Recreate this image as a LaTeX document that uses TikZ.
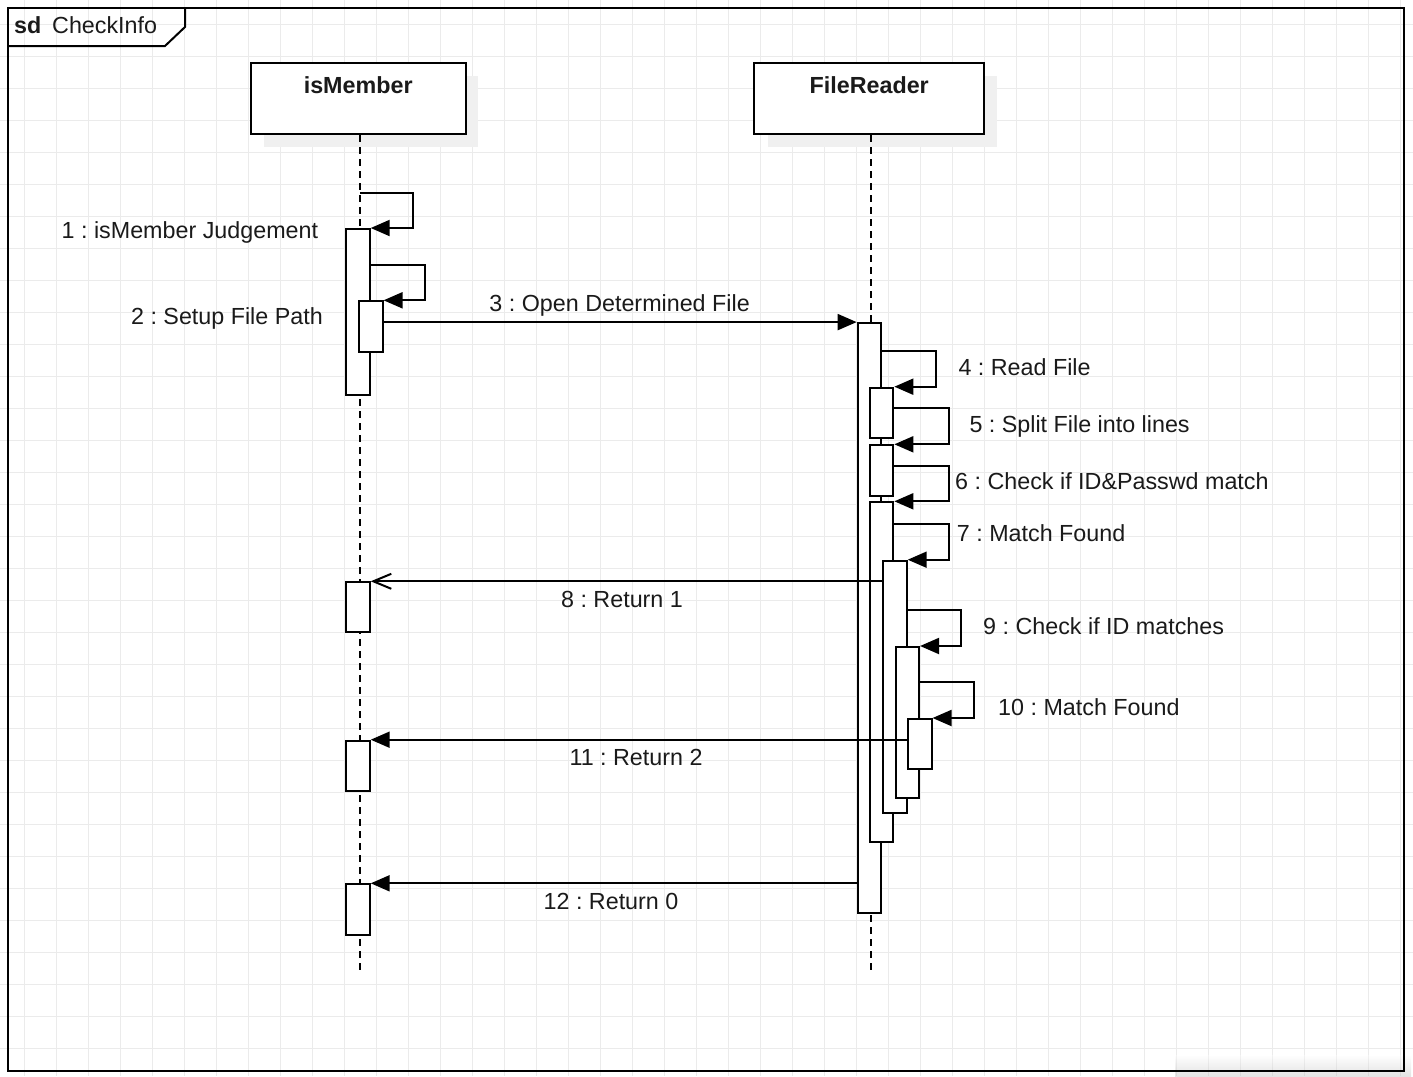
\documentclass[tikz,border=0pt]{standalone}
\usepackage{fontspec}
\setmainfont{Liberation Sans}
\usetikzlibrary{arrows.meta,calc}
\definecolor{gridc}{HTML}{EBEBEB}
\definecolor{shad}{HTML}{F0F0F0}
\definecolor{txt}{HTML}{1A1A1A}
\frenchspacing
\begin{document}
\frenchspacing
\begin{tikzpicture}[x=1pt,y=-1pt,line join=miter,
  every node/.style={font=\fontsize{23.3}{28}\selectfont\frenchspacing, text=txt},
  lbox/.style={draw, line width=2pt, fill=white, inner sep=0pt},
  bar/.style={draw, line width=2pt, fill=white, minimum width=23.4, inner sep=0pt},
  life/.style={line width=1.8pt, dash pattern=on 7pt off 5pt},
  msg/.style={line width=2pt, -{Triangle[length=19pt,width=16pt]}},
  ret/.style={line width=2pt, -{Straight Barb[length=18pt,width=15pt]}},
  lbl/.style={inner sep=0pt},
]
\useasboundingbox (0,0) rectangle (1413,1076);
\fill[white] (0,0) rectangle (1413,1076);
% grid
\foreach \i in {0,...,43} \draw[gridc, line width=1pt] ({24+32*\i},0) -- ({24+32*\i},1076);
\foreach \i in {0,...,32} \draw[gridc, line width=1pt] (0,{24+32*\i}) -- (1413,{24+32*\i});
% frame shadow
\shade[top color=white, bottom color=black!30, opacity=0.35] (1175,1055) rectangle (1411,1076);
% frame
\node[draw, line width=2pt, minimum width=1396, minimum height=1063, inner sep=0pt, anchor=north west] (frame) at (7,7) {};
\draw[line width=2pt] (frame.north west) ++(178,0) coordinate (tabr) -- ++(0,20) -- ++(-20,19) -- (frame.west |- 0,46);
\node[lbl, anchor=base west] (sd) at (14,33) {\textbf{sd}};
\node[lbl, anchor=base west] (ci) at (52,33) {CheckInfo};
% lifeline heads
\fill[shad] (264,76) rectangle (478,147);
\fill[shad] (767.5,76) rectangle (996.5,147);
\node[lbox, minimum width=215, minimum height=71] (isM) at (358.2,98.8) {};
\node[lbox, minimum width=229.7, minimum height=70.7] (FR) at (869.2,98.7) {};
\node[lbl, anchor=base] (isMt) at ($(isM.north)+(0,31.5)$) {\textbf{isMember}};
\node[lbl, anchor=base] (FRt) at ($(FR.north)+(0,31.5)$) {\textbf{FileReader}};
% lifelines
\coordinate (isMend) at (360,970);
\coordinate (FRend) at (871,970);
\draw[life] (isMend |- isM.south) -- (isMend);
\draw[life] (FRend |- FR.south) -- (FRend);
% activation bars isMember
\node[bar, minimum height=166] (b1) at (358,312) {};
\node[bar, minimum height=50.7] (b2) at (370.85,326.65) {};
\node[bar, minimum height=50] (bF) at (358,607.3) {};
\node[bar, minimum height=50] (bI) at (358,765.7) {};
\node[bar, minimum height=50.7] (bJ) at (358,909.6) {};
% activation bars FileReader
\node[bar, minimum height=590.6] (bA) at (869.35,618) {};
\node[bar, minimum height=50] (bB) at (881.65,412.7) {};
\node[bar, minimum height=50.4] (bC) at (881.65,470.5) {};
\node[bar, minimum height=339.4] (bD) at (881.65,672) {};
\node[bar, minimum height=252] (bE) at (895,686.7) {};
\node[bar, minimum height=151.3] (bG) at (907.35,722.65) {};
\node[bar, minimum height=50.3] (bH) at (919.85,744.15) {};
% messages
\coordinate (m1) at (360,193.3);
\draw[msg] (m1) -- ++(52.7,0) |- (b1.north east);
\coordinate (m2) at ($(b1.north east)+(0,37)$);
\draw[msg] (m2) -- ++(54.6,0) |- (b2.north east);
\coordinate (m3) at ($(b2.north east)+(0,21.8)$);
\draw[msg] (m3) -- (m3 -| bA.west);
\coordinate (m4) at ($(bA.north east)+(0,29)$);
\draw[msg] (m4) -- ++(54,0) |- (bB.north east);
\coordinate (m5) at ($(bB.north east)+(0,21.6)$);
\draw[msg] (m5) -- ++(54.4,0) |- (bC.north east);
\coordinate (m6) at ($(bC.north east)+(0,21.4)$);
\draw[msg] (m6) -- ++(54.4,0) |- (bD.north east);
\coordinate (m7) at ($(bD.north east)+(0,22.7)$);
\draw[msg] (m7) -- ++(54.4,0) |- (bE.north east);
\coordinate (m8) at ($(bE.north west)+(0,21.6)$);
\draw[ret] (m8) -- (m8 -| bF.east);
\coordinate (m9) at ($(bE.north east)+(0,50.3)$);
\draw[msg] (m9) -- ++(53.3,0) |- (bG.north east);
\coordinate (m10) at ($(bG.north east)+(0,36.3)$);
\draw[msg] (m10) -- ++(54,0) |- (bH.north east);
\coordinate (m11) at ($(bH.north west)+(0,21.7)$);
\draw[msg] (m11) -- (m11 -| bI.east);
\coordinate (m12) at ($(bA.north west)+(0,561.6)$);
\draw[msg] (m12) -- (m12 -| bJ.east);
% labels
\node[lbl, anchor=base east] (l1) at (318.3,238.3) {1 : isMember Judgement};
\node[lbl, anchor=base east] (l2) at (323,324.3) {2 : Setup File Path};
\node[lbl, anchor=base] (l3) at (619.6,311.7) {3 : Open Determined File};
\node[lbl, anchor=base west] (l4) at (958.3,375) {4 : Read File};
\node[lbl, anchor=base west] (l5) at (969.3,432.3) {5 : Split File into lines};
\node[lbl, anchor=base west] (l6) at (955,489) {6 : Check if ID\&Passwd match};
\node[lbl, anchor=base west] (l7) at (956.7,541.7) {7 : Match Found};
\node[lbl, anchor=base] (l8) at (622,607) {8 : Return 1};
\node[lbl, anchor=base west] (l9) at (983,634) {9 : Check if ID matches};
\node[lbl, anchor=base west] (l10) at (998,715) {10 : Match Found};
\node[lbl, anchor=base] (l11) at (636,765) {11 : Return 2};
\node[lbl, anchor=base] (l12) at (611,909) {12 : Return 0};
\end{tikzpicture}
\end{document}
